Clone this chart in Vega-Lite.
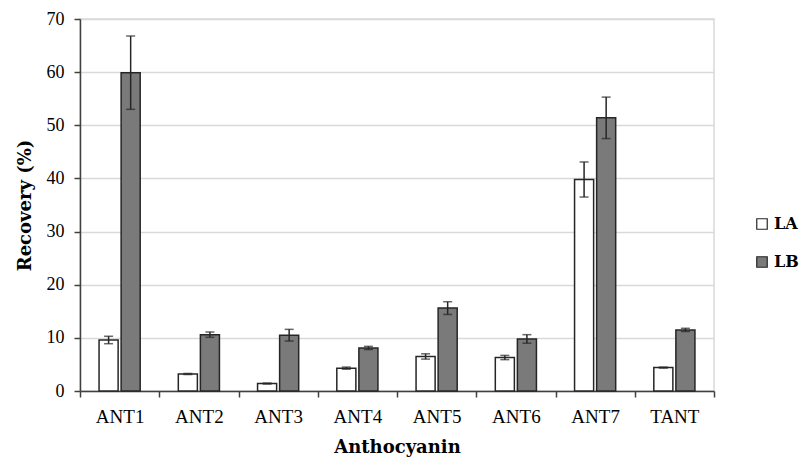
{
  "$schema": "https://vega.github.io/schema/vega-lite/v6.json",
  "autosize": {"type": "none"},
  "width": 634,
  "height": 372,
  "padding": {"left": 80, "top": 19, "right": 86, "bottom": 70},
  "background": "white",
  "config": {
    "font": "Liberation Serif",
    "view": {"stroke": "#d9d9d9", "strokeWidth": 1.5},
    "axis": {"labelFont": "Liberation Serif", "titleFont": "DejaVu Serif", "labelColor": "black", "titleColor": "black"},
    "legend": {"labelFont": "DejaVu Serif"}
  },
  "data": {
    "values": [
      {"Anthocyanin": "ANT1", "Sample": "LA", "Recovery": 9.6, "lo": 8.9, "hi": 10.3},
      {"Anthocyanin": "ANT1", "Sample": "LB", "Recovery": 59.9, "lo": 53.0, "hi": 66.8},
      {"Anthocyanin": "ANT2", "Sample": "LA", "Recovery": 3.2, "lo": 3.1, "hi": 3.3},
      {"Anthocyanin": "ANT2", "Sample": "LB", "Recovery": 10.6, "lo": 10.1, "hi": 11.1},
      {"Anthocyanin": "ANT3", "Sample": "LA", "Recovery": 1.4, "lo": 1.3, "hi": 1.5},
      {"Anthocyanin": "ANT3", "Sample": "LB", "Recovery": 10.5, "lo": 9.4, "hi": 11.6},
      {"Anthocyanin": "ANT4", "Sample": "LA", "Recovery": 4.3, "lo": 4.1, "hi": 4.5},
      {"Anthocyanin": "ANT4", "Sample": "LB", "Recovery": 8.1, "lo": 7.8, "hi": 8.4},
      {"Anthocyanin": "ANT5", "Sample": "LA", "Recovery": 6.5, "lo": 6.0, "hi": 7.0},
      {"Anthocyanin": "ANT5", "Sample": "LB", "Recovery": 15.6, "lo": 14.4, "hi": 16.8},
      {"Anthocyanin": "ANT6", "Sample": "LA", "Recovery": 6.3, "lo": 5.9, "hi": 6.7},
      {"Anthocyanin": "ANT6", "Sample": "LB", "Recovery": 9.8, "lo": 9.0, "hi": 10.6},
      {"Anthocyanin": "ANT7", "Sample": "LA", "Recovery": 39.8, "lo": 36.5, "hi": 43.1},
      {"Anthocyanin": "ANT7", "Sample": "LB", "Recovery": 51.4, "lo": 47.5, "hi": 55.3},
      {"Anthocyanin": "TANT", "Sample": "LA", "Recovery": 4.4, "lo": 4.3, "hi": 4.5},
      {"Anthocyanin": "TANT", "Sample": "LB", "Recovery": 11.5, "lo": 11.2, "hi": 11.8}
    ]
  },
  "encoding": {
    "x": {
      "field": "Anthocyanin", "type": "nominal", "sort": null,
      "scale": {"paddingInner": 0, "paddingOuter": 0},
      "axis": {
        "title": "Anthocyanin", "titleFont": "DejaVu Serif", "titleFontSize": 18, "titleFontWeight": "bold", "titlePadding": 12,
        "labelFont": "Liberation Serif", "labelFontSize": 19, "labelAngle": 0, "labelPadding": 10,
        "tickBand": "extent", "ticks": true, "tickSize": 6, "tickColor": "#404040", "tickWidth": 1.5,
        "domainColor": "#404040", "domainWidth": 1.5, "grid": false
      }
    },
    "xOffset": {
      "field": "Sample", "type": "nominal",
      "scale": {"paddingInner": 0.136, "paddingOuter": 0.864}
    }
  },
  "layer": [
    {
      "mark": {"type": "bar", "stroke": "#262626", "strokeWidth": 1.5},
      "encoding": {
        "y": {
          "field": "Recovery", "type": "quantitative",
          "scale": {"domain": [0, 70], "nice": false},
          "axis": {
            "title": "Recovery (%)", "titleFont": "DejaVu Serif", "titleFontSize": 18, "titleFontWeight": "bold", "titlePadding": 12,
            "labelFont": "Liberation Serif", "labelFontSize": 18, "labelPadding": 10, "values": [0, 10, 20, 30, 40, 50, 60, 70],
            "tickSize": 6, "tickColor": "#404040", "tickWidth": 1.5,
            "domainColor": "#404040", "domainWidth": 1.5,
            "grid": true, "gridColor": "#d9d9d9", "gridWidth": 1.5
          }
        },
        "fill": {
          "field": "Sample", "type": "nominal",
          "scale": {"domain": ["LA", "LB"], "range": ["#ffffff", "#7a7a7a"]},
          "legend": {
            "title": null, "orient": "none", "legendX": 674, "legendY": 197,
            "symbolType": "square", "symbolSize": 110, "symbolStrokeColor": "#262626", "symbolStrokeWidth": 1.2,
            "labelFontSize": 16, "labelFontWeight": "bold", "labelFont": "DejaVu Serif", "labelColor": "black",
            "rowPadding": 22, "labelOffset": 4
          }
        }
      }
    },
    {
      "mark": {"type": "rule", "color": "#262626", "strokeWidth": 1.5},
      "encoding": {
        "y": {"field": "lo", "type": "quantitative"},
        "y2": {"field": "hi"}
      }
    },
    {
      "mark": {"type": "tick", "color": "#262626", "thickness": 1.5, "size": 9},
      "encoding": {
        "y": {"field": "hi", "type": "quantitative"}
      }
    },
    {
      "mark": {"type": "tick", "color": "#262626", "thickness": 1.5, "size": 9},
      "encoding": {
        "y": {"field": "lo", "type": "quantitative"}
      }
    }
  ]
}
